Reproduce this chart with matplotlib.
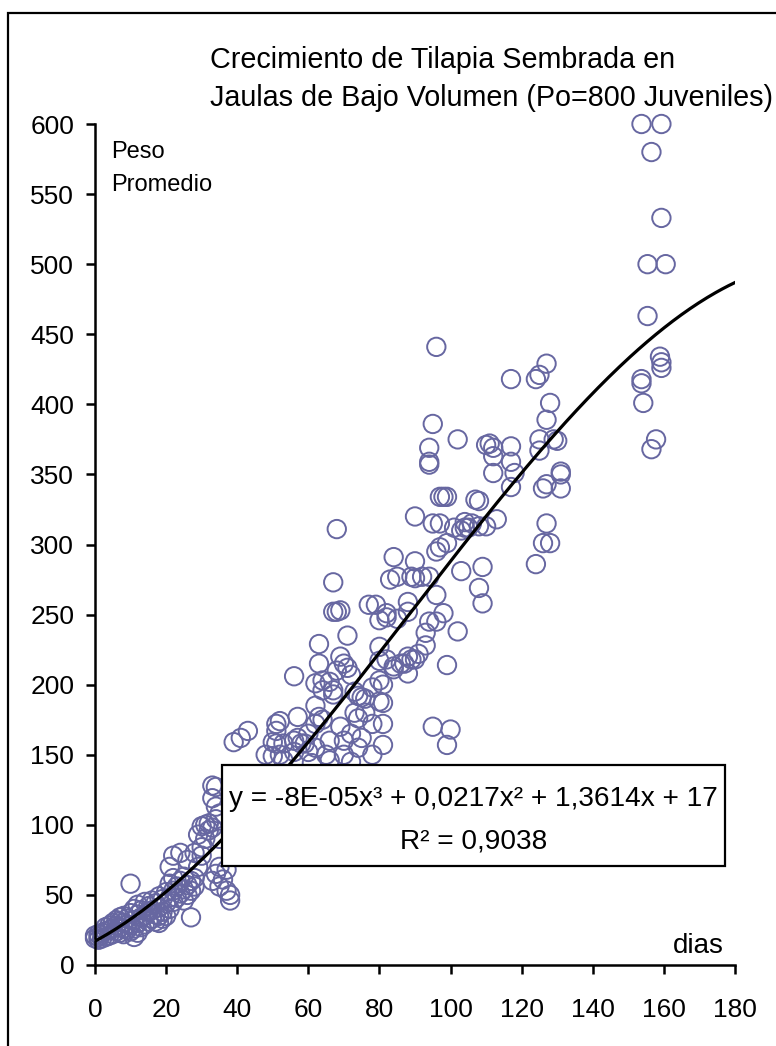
import numpy as np
import matplotlib.pyplot as plt
from matplotlib.patches import Rectangle

plt.rcParams['font.family'] = ['Liberation Sans', 'DejaVu Sans']

# dias de cultivo / peso promedio (g)
dias = [0, 0, 1, 1, 1, 2, 2, 3, 3, 3, 4, 4, 4, 5, 5, 5, 6, 6, 6, 7, 7, 7, 7, 8, 8, 8, 8, 9, 9, 9, 10, 10, 10, 10,
        11, 11, 11, 11, 12, 12, 12, 12, 13, 13, 13, 14, 14, 14, 15, 15, 15, 16, 16, 16, 17, 17, 17, 18, 18, 18, 18, 19, 19, 19, 20, 20, 20,
        21, 21, 21, 21, 22, 22, 22, 22, 23, 23, 24, 24, 24, 25, 25, 25, 26, 26, 26, 27, 27, 27, 28, 28, 28, 29, 29, 30, 30, 30,
        31, 31, 32, 32, 33, 33, 33, 33, 34, 34, 34, 34, 35, 35, 35, 35, 36, 37, 37, 38, 38, 39, 41, 43,
        48, 50, 50, 51, 51, 51, 52, 52, 53, 53, 56, 56, 56, 57, 57, 58, 59, 60, 60, 61, 62, 62, 62, 62, 63, 63, 63, 64, 64, 64, 65, 66, 66, 66,
        67, 67, 67, 67, 68, 68, 68, 69, 69, 69, 70, 70, 70, 71, 71, 72, 72, 72, 73, 73, 74, 74, 74, 75, 75, 76, 76, 77, 78, 78, 78, 79,
        80, 80, 80, 80, 80, 81, 81, 81, 81, 82, 82, 82,
        83, 84, 84, 84, 85, 85, 86, 87, 88, 88, 88, 88, 89, 89, 90, 90, 90, 90, 91, 92, 93, 93, 94, 94, 94, 94, 94, 95, 95, 95,
        96, 96, 96, 96, 97, 97, 97, 98, 98, 99, 99, 99, 99, 100,
        101, 102, 102, 103, 103, 104, 104, 105, 106, 107, 108, 108, 108, 109, 109, 110, 110, 111, 112, 112, 112, 113,
        117, 117, 117, 117, 118, 124, 124, 125, 125, 125, 126, 126, 127, 127, 127, 127, 128, 128, 129, 130, 131, 131, 131,
        153.7, 159.3, 156.5, 159.3, 155.4, 160.5, 155.4, 158.9, 159.3, 159.3, 153.7, 153.7, 154.2, 157.8, 156.5]
peso = [19, 21, 18, 20, 22, 19, 23, 20, 24, 27, 21, 25, 28, 22, 26, 30, 24, 28, 32, 23, 27, 31, 34, 22, 26, 30, 35, 25, 29, 33, 24, 28, 37, 58,
        20, 26, 32, 40, 23, 30, 36, 43, 27, 34, 39, 29, 35, 45, 31, 38, 42, 33, 39, 46, 31, 36, 44, 30, 35, 41, 49, 33, 38, 47, 35, 44, 52,
        40, 48, 58, 70, 45, 53, 62, 78, 48, 56, 51, 60, 80, 46, 54, 63, 50, 57, 75, 34, 53, 60, 56, 62, 80, 70, 93, 78, 84, 99,
        90, 100, 96, 101, 60, 98, 119, 128, 65, 104, 113, 127, 56, 70, 90, 108, 61, 53, 68, 46, 50, 159, 162, 167,
        150, 149, 159, 158, 167, 172, 150, 174, 146, 158, 152, 160, 206, 162, 177, 158, 158, 152, 165, 144, 155, 172, 185, 201, 177, 215, 229, 175, 196, 203, 150, 146, 202, 160,
        193, 196, 252, 273, 210, 311, 252, 220, 253, 170, 215, 160, 150, 212, 235, 207, 145, 165, 180, 195, 176, 192, 155, 191, 162, 190, 180, 257, 172, 150, 198, 257,
        246, 227, 217, 203, 188, 200, 187, 172, 157, 218, 251, 248,
        275, 291, 211, 213, 277, 247, 215, 215, 259, 252, 208, 220, 218, 277, 288, 276, 218, 320, 222, 277, 237, 228, 277, 245, 357, 359, 369, 386, 315, 170,
        295, 264, 245, 441, 298, 315, 334, 251, 334, 301, 334, 157, 214, 168,
        312, 238, 375, 281, 310, 316, 312, 312, 315, 332, 313, 331, 269, 284, 258, 371, 313, 372, 369, 363, 351, 318,
        418, 370, 359, 341, 351, 286, 418, 421, 375, 367, 301, 340, 429, 343, 315, 389, 301, 401, 375, 374, 340, 350, 352,
        600, 600, 580, 533, 500, 500, 463, 434, 430, 426, 418, 415, 401, 375, 368]
assert len(dias) == len(peso)

# linea de tendencia polinomica (orden 3)
coef_tendencia = [-8.2e-05, 0.0217, 1.3614, 17.0]
ecuacion = 'y = -8E-05x³ + 0,0217x² + 1,3614x + 17'
r2_texto = 'R² = 0,9038'
titulo = ['Crecimiento de Tilapia Sembrada en', 'Jaulas de Bajo Volumen (Po=800 Juveniles)']
x_ticks = list(range(0, 181, 20))
y_ticks = list(range(0, 601, 50))

W, H = 776, 1046
fig = plt.figure(figsize=(W / 100, H / 100), dpi=100)
fx = lambda px: px / W
fy = lambda py: 1 - py / H

ax = fig.add_axes([fx(95), fy(965), 640 / W, 841 / H])

# marco exterior
fig.add_artist(Rectangle((fx(8), fy(1100)), 2, fy(13) - fy(1100), transform=fig.transFigure,
                         fill=False, edgecolor='black', linewidth=1.6))

ax.scatter(dias, peso, s=175, facecolors='none', edgecolors='#6767a1', linewidths=1.4,
           clip_on=False, zorder=2)

xs = np.linspace(0, 180, 300)
ax.plot(xs, np.polyval(coef_tendencia, xs), color='black', linewidth=2.3, zorder=3)

ax.set_xlim(0, 180)
ax.set_ylim(0, 600)
ax.set_xticks(x_ticks)
ax.set_yticks(y_ticks)
for s in ['top', 'right']:
    ax.spines[s].set_visible(False)
for s in ['left', 'bottom']:
    ax.spines[s].set_linewidth(1.8)
ax.tick_params(direction='out', length=6.5, width=1.8, labelsize=19)
ax.tick_params(axis='y', pad=8.5)
ax.tick_params(axis='x', pad=17)

# cuadro con la ecuacion
ax.add_patch(Rectangle((fx(222), fy(866)), (725 - 222) / W, (866 - 765) / H, transform=fig.transFigure,
                       facecolor='white', edgecolor='black', linewidth=1.6, clip_on=False, zorder=5))
ax.text(fx(473.5), fy(806), ecuacion, transform=fig.transFigure, ha='center', va='baseline',
        fontsize=20.2, zorder=6)
ax.text(fx(473.5), fy(849), r2_texto, transform=fig.transFigure, ha='center', va='baseline',
        fontsize=20.2, zorder=6)

fig.text(fx(210), fy(68), titulo[0], fontsize=20.7, va='baseline')
fig.text(fx(210), fy(106), titulo[1], fontsize=20.7, va='baseline')
fig.text(fx(111), fy(158), 'Peso', fontsize=17, va='baseline')
fig.text(fx(111), fy(191), 'Promedio', fontsize=17, va='baseline')
fig.text(fx(698), fy(953), 'dias', fontsize=20, ha='center', va='baseline')

fig.savefig('out.png', dpi=100)
